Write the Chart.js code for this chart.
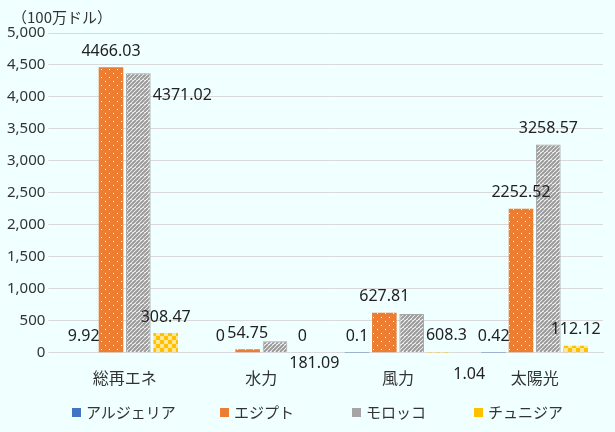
<!DOCTYPE html>
<html><head><meta charset="utf-8">
<script src="https://cdn.jsdelivr.net/npm/chart.js@4"></script>
<style>
body{margin:0;background:#F0FFFF;}
#wrap{position:relative;width:615px;height:432px;}
#unit{position:absolute;left:12px;top:6px;font:15px "Noto Sans CJK JP";color:#333;}
#legend{position:absolute;top:401px;left:0;width:615px;font:15px "Noto Sans CJK JP";color:#333;}
#legend span.item{position:absolute;white-space:nowrap;}
#legend i{display:inline-block;width:9px;height:9px;margin-right:5px;vertical-align:1px;}
</style></head><body>
<div id="wrap"><div id="unit">（100万ドル）</div><canvas id="c" width="615" height="432"></canvas><div id="legend"></div></div>
<script>
const categories = ['総再エネ', '水力', '風力', '太陽光'];
const seriesNames = ['アルジェリア', 'エジプト', 'モロッコ', 'チュニジア'];
const algeria = [9.92, 0, 0.1, 0.42];
const egypt = [4466.03, 54.75, 627.81, 2252.52];
const morocco = [4371.02, 181.09, 608.3, 3258.57];
const tunisia = [308.47, 0, 1.04, 112.12];

function pattern(kind) {
    const p = document.createElement('canvas');
    p.width = 8; p.height = 8;
    const g = p.getContext('2d');
    if (kind === 'dots') {
        g.fillStyle = '#ED7D31'; g.fillRect(0, 0, 8, 8);
        g.fillStyle = '#fff'; g.fillRect(1, 1, 1, 1); g.fillRect(5, 5, 1, 1);
    } else if (kind === 'hatch') {
        g.fillStyle = '#fff'; g.fillRect(0, 0, 8, 8);
        g.strokeStyle = '#9a9a9a'; g.lineWidth = 2;
        for (let i = -8; i <= 16; i += 4) { g.beginPath(); g.moveTo(i, 8); g.lineTo(i + 8, 0); g.stroke(); }
    } else {
        g.fillStyle = '#FFC000'; g.fillRect(0, 0, 8, 8);
        g.fillStyle = '#FFE699'; g.fillRect(0, 0, 4, 4); g.fillRect(4, 4, 4, 4);
    }
    return document.getElementById('c').getContext('2d').createPattern(p, 'repeat');
}

const labelPlugin = {
    id: 'labels',
    afterDatasetsDraw(chart) {
        const ctx = chart.ctx;
        ctx.save();
        ctx.font = '16px "Noto Sans"';
        ctx.fillStyle = '#222';
        ctx.textBaseline = 'bottom';
        const boxes = [];
        chart.data.datasets.forEach((ds, i) => {
            chart.getDatasetMeta(i).data.forEach((bar, j) => {
                const t = String(ds.data[j]);
                const w = ctx.measureText(t).width;
                let x = bar.x - w / 2, y = bar.y - 8;
                // move to the right of the bar if it would collide with a previous label
                if (boxes.some(b => x < b.x + b.w && x + w > b.x && Math.abs(y - b.y) < 18)) {
                    x = bar.x + bar.width / 2 + 2; y = bar.y + 30;
                }
                boxes.push({ x, y, w });
                ctx.fillText(t, x, y);
            });
        });
        ctx.restore();
    }
};

const colors = ['#4472C4', pattern('dots'), pattern('hatch'), pattern('check')];
const swatches = ['#4472C4', '#ED7D31', '#A5A5A5', '#FFC000'];
const legendX = [72, 220, 352, 474];
document.getElementById('legend').innerHTML = seriesNames.map((n, i) =>
    '<span class="item" style="left:' + legendX[i] + 'px"><i style="background:' + swatches[i] + '"></i>' + n + '</span>').join('');

new Chart(document.getElementById('c'), {
    type: 'bar',
    data: {
        labels: categories,
        datasets: [
            { label: seriesNames[0], data: algeria, backgroundColor: colors[0] },
            { label: seriesNames[1], data: egypt, backgroundColor: colors[1] },
            { label: seriesNames[2], data: morocco, backgroundColor: colors[2], borderColor: '#A5A5A5', borderWidth: 1 },
            { label: seriesNames[3], data: tunisia, backgroundColor: colors[3] }
        ]
    },
    options: {
        responsive: false,
        animation: false,
        layout: { padding: { top: 33, right: 12, left: 4, bottom: 36 } },
        scales: {
            x: {
                grid: { display: false },
                border: { color: '#d9d9d9' },
                ticks: { font: { size: 16, family: 'Noto Sans CJK JP' }, color: '#333', padding: 8 },
                categoryPercentage: 0.62,
                barPercentage: 0.85
            },
            y: {
                min: 0, max: 5000,
                ticks: { stepSize: 500, font: { size: 15, family: 'Noto Sans' }, color: '#333',
                    callback: v => v.toLocaleString('en-US') },
                grid: { color: '#d9d9d9' },
                border: { display: false }
            }
        },
        plugins: {
            legend: { display: false },
            tooltip: { enabled: false }
        }
    },
    plugins: [labelPlugin]
});
</script>
</body></html>
